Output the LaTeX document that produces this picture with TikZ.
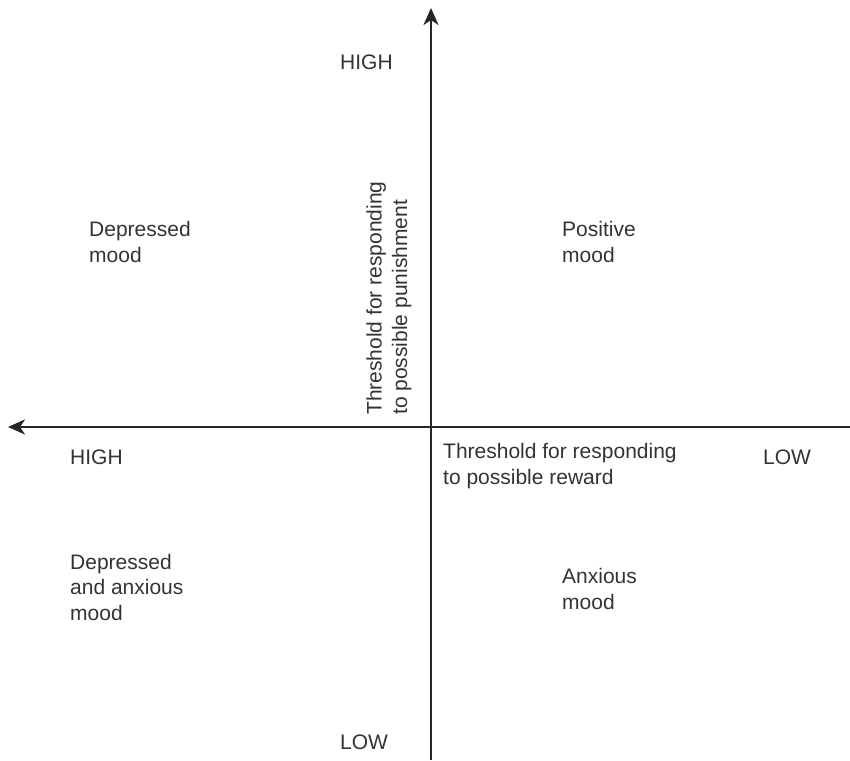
\documentclass[tikz,border=0pt]{standalone}
\usepackage{fontspec}
\setmainfont{Liberation Sans}
\usetikzlibrary{arrows.meta,positioning}

\tikzset{
  axis/.style={line width=2.6pt, draw=black!85, -{Stealth[length=17pt,width=15pt,inset=5pt]}},
  lbl/.style={inner sep=0pt, anchor=west, align=left, text=black!80,
    font=\fontsize{21}{25.5}\selectfont}
}

\begin{document}
\begin{tikzpicture}[x=1pt, y=-1pt]
  \useasboundingbox (0,0) rectangle (850,760);

  % axes
  \coordinate (origin) at (431,427);
  \coordinate (xstart) at (850,427);
  \coordinate (xend) at (8,427);
  \coordinate (ystart) at (431,760);
  \coordinate (yend) at (431,8);
  \draw[axis] (xstart) -- (xend);
  \draw[axis] (ystart) -- (yend);

  % axis labels
  \node[lbl] (high_y) at (340,62) {HIGH};
  \node[lbl] (low_y) at (340,742) {LOW};
  \node[lbl] (high_x) at (70,457) {HIGH};
  \node[lbl] (low_x) at (763,457) {LOW};
  \node[lbl] (reward) at (443,466) {Threshold for responding\\to possible reward};
  \node[lbl, rotate=90] (punish) at (389,415) {Threshold for responding\\to possible punishment};

  % quadrants
  \node[lbl] (depressed) at (89,242) {Depressed\\mood};
  \node[lbl] (positive) at (562,242) {Positive\\mood};
  \node[lbl] (depanx) at (70,587) {Depressed\\and anxious\\mood};
  \node[lbl] (anxious) at (562,589) {Anxious\\mood};
\end{tikzpicture}
\end{document}
